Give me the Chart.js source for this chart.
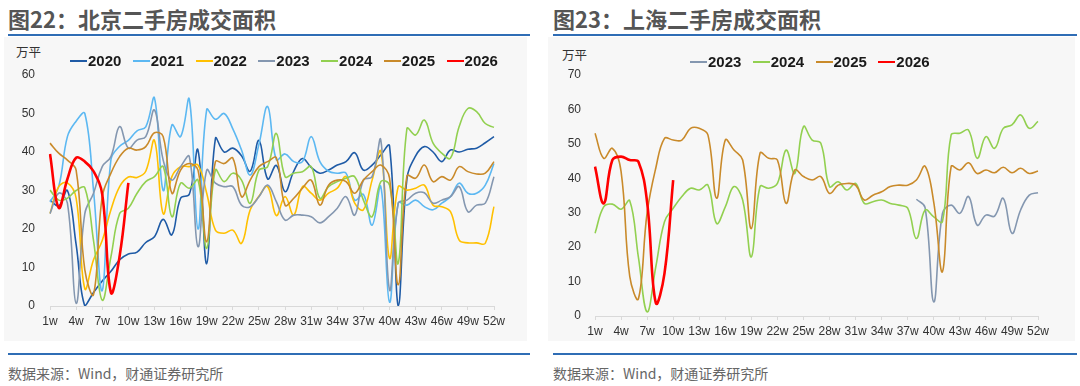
<!DOCTYPE html>
<html lang="zh">
<head>
<meta charset="UTF-8">
<title>二手房成交面积</title>
<script src="https://cdn.jsdelivr.net/npm/chart.js"></script>
<style>
  body { margin: 0; width: 1080px; height: 386px; background: #fff; position: relative; overflow: hidden;
         font-family: "Noto Sans CJK SC", sans-serif; }
  .title { position: absolute; top: 6px; font-size: 22px; font-weight: bold; color: #555; line-height: 24px; white-space: nowrap; }
  .rule { position: absolute; height: 2px; background: #2f6db5; }
  .panel { position: absolute; top: 37px; height: 304px; background: #f7f7f7; }
  .unit { position: absolute; font-size: 12.5px; line-height: 16px; color: #333; }
  .src { position: absolute; top: 363px; font-size: 14px; line-height: 20px; color: #666; white-space: nowrap; }
  .wrap { position: absolute; top: 36px; }
  .legend { position: absolute; display: flex; font: bold 15px "Liberation Sans", Arial, sans-serif; color: #1a1a1a; line-height: 18px; }
  .legend .item { display: flex; align-items: center; margin-right: 11.4px; }
  .legend i { display: inline-block; width: 17px; height: 2px; margin-right: 1px; }
</style>
</head>
<body>

<div class="panel" style="left:4px; width:523px;"></div>
<div class="panel" style="left:548px; width:527px;"></div>

<div class="title" style="left:8px;">图22：北京二手房成交面积</div>
<div class="title" style="left:553px;">图23：上海二手房成交面积</div>
<div class="rule" style="left:8px; width:522px; top:34px;"></div>
<div class="rule" style="left:553px; width:524px; top:34px;"></div>

<div class="unit" style="left:16px; top:44px;">万平</div>
<div class="unit" style="left:562px; top:47px;">万平</div>

<div class="wrap" style="left:0px;"><canvas id="bj" width="530" height="304"></canvas></div>
<div class="wrap" style="left:540px;"><canvas id="sh" width="540" height="304"></canvas></div>

<div class="legend" id="bjLegend" style="left:70px; top:52px;"></div>
<div class="legend" id="shLegend" style="left:690px; top:53px;"></div>

<div class="rule" style="left:8px; width:522px; top:353px;"></div>
<div class="rule" style="left:553px; width:524px; top:353px;"></div>
<div class="src" style="left:8px;">数据来源：Wind，财通证券研究所</div>
<div class="src" style="left:553px;">数据来源：Wind，财通证券研究所</div>

<script>
// week labels 1w..52w
const weeks = Array.from({ length: 52 }, (_, i) => (i + 1) + 'w');

// 北京 (万平)
const bj2020 = [27.5, 26, 30, 16, 0, 3.5, 6.5, 9, 12, 13.5, 14, 16.5, 18, 22.5, 18.5, 28, 29, 40.5, 11, 43.5,
                40, 41, 39, 35, 43, 33, 36.5, 29.7, 35, 38.3, 36, 34.5, 35.3, 36.6, 37.5, 39.8, 35.3, 36.6, 39.2, 41.6,
                0, 33, 39, 41.4, 40, 37.5, 40.5, 40, 40.7, 41, 42.4, 44];
const bj2021 = [27, 31, 44, 48, 50, 30, 4, 38, 41.5, 43, 45.5, 46.5, 54, 30, 47, 44, 53.7, 20, 51, 48.5,
                50, 46, 40.5, 34, 42, 51.8, 38, 39.5, 37.5, 37.5, 44, 37.5, 35, 34.5, 34.5, 27.5, 29, 21, 31, 1,
                26.7, 26.2, 27.5, 25.8, 25, 26.7, 28.4, 31.9, 29.3, 29.3, 31.4, 37];
const bj2022 = [24, 31, 32, 28, 4.5, 12, 17, 25, 31, 33.5, 33.4, 35, 43, 24, 33.6, 36.2, 36.2, 36.6, 29.3, 19.7,
                18.9, 19.7, 16.3, 25, 28.5, 31, 23.5, 28.4, 23.6, 31, 29.3, 27.5, 29.3, 30.6, 33.6, 26.7, 25, 32.7, 40.1, 12.4,
                31, 30.1, 30.6, 31.4, 26.2, 25.8, 24.5, 17.1, 16.4, 16.4, 16.3, 25.8];
const bj2023 = [24, 29.3, 26.7, 0.7, 24, 29.3, 36.2, 38.8, 46.6, 41, 43.1, 44, 50.9, 37.9, 32.7, 36.2, 38.8, 15.4, 35.3, 31.9,
                31, 31, 26.2, 25.8, 28.4, 31.4, 27.1, 22.3, 23.6, 23.6, 23.2, 21.6, 23.2, 25.4, 28.4, 23.6, 32.7, 33.6, 43.1, 4.2,
                26.7, 27.5, 29.3, 29.4, 26.7, 27.5, 28.4, 31, 24.5, 26.2, 26.7, 33.6];
const bj2024 = [30.1, 27.5, 28, 30, 30.7, 17, 1.5, 12.8, 24, 25.4, 29.3, 32.3, 33.6, 36.2, 23.2, 31.9, 30.6, 32.7, 15, 35.3,
                32.3, 34.5, 32.7, 26.7, 35.3, 36.2, 44.8, 33.6, 34.5, 34.9, 36.2, 28, 31, 32.3, 33.2, 33.6, 27.5, 23.2, 32.3, 31.4,
                11.1, 46.1, 44.4, 48.3, 42.3, 39.7, 38.4, 46.6, 51.3, 50.5, 47.4, 46.4];
const bj2025 = [42.3, 39.7, 37.9, 35.3, 9.4, 3, 28.4, 34.5, 38.8, 41, 40.5, 41.4, 45, 44, 29.3, 35.3, 37, 35.3, 16.7, 37.5,
                37, 38.4, 28.4, 32.7, 36.2, 37.5, 38.5, 26.2, 28, 30.6, 32.7, 26.2, 31.4, 32.7, 32.3, 29.3, 32.7, 34.9, 36.6, 33.2,
                5.5, 33.8, 33.2, 36.6, 32.3, 33.6, 32.7, 36.2, 34.9, 34.3, 34.5, 37.5];
const bj2026 = [39.5, 25.5, 33, 38.5, 37.5, 35, 29, 3.5, 13, 32];

// 上海 (万平)
const sh2023 = [null, null, null, null, null, null, null, null, null, null, null, null, null, null, null, null, null, null, null, null,
                null, null, null, null, null, null, null, null, null, null, null, null, null, null, null, null, null, 33.9, 31.5, 4.1,
                29.8, 32.2, 29.8, 34.7, 26.4, 29.3, 29, 34.2, 24, 30.8, 35.1, 35.8];
const sh2024 = [24, 31.7, 32.5, 31, 33.5, 17, 1.2, 14.3, 27.4, 31.3, 34.7, 37.1, 36.6, 38, 26.9, 31.7, 37.6, 33.7, 17.2, 37.6,
                37.1, 38.5, 48.2, 41.4, 55, 51.1, 50.2, 37.6, 39, 36.6, 38.5, 32.7, 33.2, 33.7, 32.7, 32.2, 31.3, 22.5, 30.8, 28.8,
                27.4, 52.6, 53.1, 54, 45.8, 52.1, 48.7, 54.5, 55.5, 58.4, 54.5, 56.5];
const sh2025 = [53.1, 45.8, 48.7, 42, 11.5, 5, 30, 43, 51.6, 51.1, 51.1, 54.5, 54.5, 52.6, 34.2, 51.1, 48.2, 45.3, 25.4, 47.3,
                45.8, 45.3, 32.7, 42.4, 40.5, 39.5, 40.5, 35.6, 38, 38.5, 38, 33.7, 35.1, 36.1, 37.6, 38, 38, 39.5, 43.5, 33,
                12.9, 43.4, 42.4, 44.5, 41.4, 42.4, 41.6, 43.2, 41.6, 42.9, 41.4, 42.1];
const sh2026 = [43.4, 32.7, 45.3, 46.3, 45.3, 44.8, 33, 3.8, 12.4, 39.5];

const colors = {
  '2020': '#1f5ba6', '2021': '#5cb8f2', '2022': '#ffc000', '2023': '#8497b0',
  '2024': '#92d050', '2025': '#c98a2a', '2026': '#ff0000'
};

const bjSeries = [
  ['2020', bj2020], ['2021', bj2021], ['2022', bj2022], ['2023', bj2023],
  ['2024', bj2024], ['2025', bj2025], ['2026', bj2026]
];
const shSeries = [['2023', sh2023], ['2024', sh2024], ['2025', sh2025], ['2026', sh2026]];

function makeChart(canvasId, legendId, series, yMax, box) {
  const n = series.length;
  const datasets = series.map(([name, values], i) => ({
    label: name,
    data: values,
    borderColor: colors[name],
    backgroundColor: colors[name],
    borderWidth: name === '2026' ? 2.6 : 1.6,
    pointRadius: 0,
    tension: 0.4,
    order: n - i
  }));

  new Chart(document.getElementById(canvasId), {
    type: 'line',
    data: { labels: weeks, datasets: datasets },
    options: {
      responsive: false,
      animation: false,
      layout: { padding: { top: box.top, right: box.right, bottom: 0, left: 0 } },
      plugins: { legend: { display: false }, tooltip: { enabled: false } },
      scales: {
        x: {
          offset: false,
          grid: { drawOnChartArea: false, tickLength: 4, color: '#d9d9d9' },
          border: { color: '#d9d9d9', width: 1 },
          ticks: {
            autoSkip: false, maxRotation: 0, padding: 4, color: '#333',
            font: { family: 'Liberation Sans', size: 12 },
            callback: function (v, i) { return i % 3 === 0 ? this.getLabelForValue(v) : null; }
          },
          afterFit: s => { s.height = box.xh; }
        },
        y: {
          min: 0, max: yMax,
          grid: { display: false, drawTicks: false },
          border: { display: false },
          ticks: { stepSize: 10, padding: box.ypad, color: '#333', font: { family: 'Liberation Sans', size: 12 } },
          afterFit: s => { s.width = box.yw; }
        }
      }
    }
  });

  // html legend built from the datasets
  const legend = document.getElementById(legendId);
  datasets.forEach(ds => {
    const item = document.createElement('span');
    item.className = 'item';
    const line = document.createElement('i');
    line.style.background = ds.borderColor;
    item.appendChild(line);
    item.appendChild(document.createTextNode(ds.label));
    legend.appendChild(item);
  });
}

makeChart('bj', 'bjLegend', bjSeries, 60, { top: 39, right: 36, yw: 50, ypad: 15, xh: 34 });
makeChart('sh', 'shLegend', shSeries, 70, { top: 39, right: 42, yw: 55, ypad: 14, xh: 24 });
</script>
</body>
</html>
